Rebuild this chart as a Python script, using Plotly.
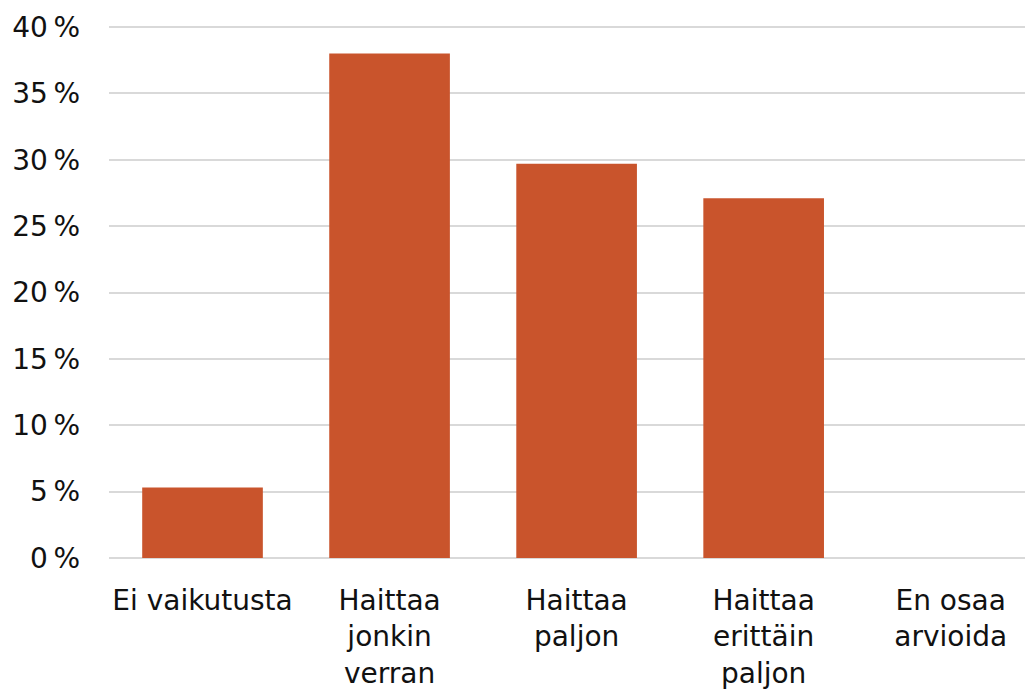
import plotly.graph_objects as go

categories = ["Ei vaikutusta", "Haittaa<br>jonkin<br>verran", "Haittaa<br>paljon",
              "Haittaa<br>erittäin<br>paljon", "En osaa<br>arvioida"]
values = [5.3, 38.0, 29.7, 27.1, 0.0]
y_ticks = [0, 5, 10, 15, 20, 25, 30, 35, 40]
y_tick_labels = [f"{v}\u2009%" for v in y_ticks]

fig = go.Figure(go.Bar(
    x=categories, y=values,
    marker=dict(color="#C9542C", line=dict(width=0)),
    width=0.645,
))

fig.update_layout(
    width=1033, height=690,
    margin=dict(l=101, r=8, t=18, b=139, autoexpand=False),
    plot_bgcolor="white", paper_bgcolor="white",
    font=dict(family="DejaVu Sans", size=28, color="#111111"),
    showlegend=False,
)
fig.update_yaxes(range=[-0.08, 40.08], tickvals=y_ticks, ticktext=y_tick_labels,
                 showgrid=True, gridcolor="#d9d9d9", gridwidth=2,
                 zeroline=False, showline=False, ticks="", ticklabelstandoff=28,
                 automargin=False)
fig.update_xaxes(range=[-0.5, 4.44], showline=False, ticks="", showgrid=False,
                 tickangle=0, ticklabelstandoff=22, automargin=False)

fig.write_html("out.html")
